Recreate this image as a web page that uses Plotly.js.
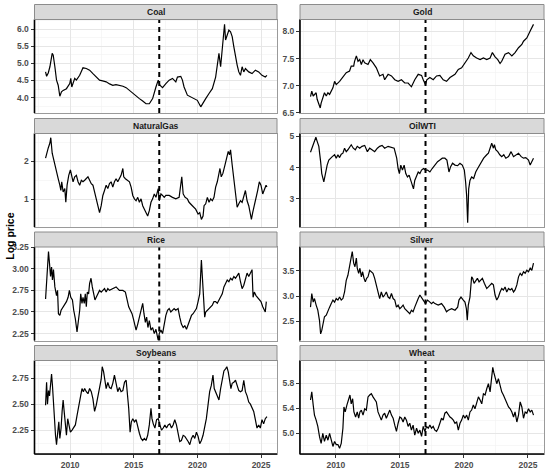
<!DOCTYPE html>
<html>
<head>
<meta charset="utf-8">
<script src="https://cdn.plot.ly/plotly-3.0.1.min.js"></script>
<style>
  html, body { margin: 0; padding: 0; background: #fff; }
  #chart { width: 550px; height: 469px; }
</style>
</head>
<body>
<div id="chart"></div>
<script>
// log prices, [year, log price]
const coal = [[2008.07,4.75],[2008.15,4.62],[2008.28,4.72],[2008.41,4.90],[2008.59,5.29],[2008.67,5.24],[2008.80,4.90],[2008.93,4.51],[2009.06,4.36],[2009.19,4.04],[2009.32,4.17],[2009.45,4.21],[2009.71,4.26],[2009.97,4.41],[2010.05,4.56],[2010.13,4.31],[2010.36,4.56],[2010.49,4.51],[2010.75,4.65],[2011.01,4.87],[2011.27,4.85],[2011.53,4.80],[2011.79,4.70],[2012.05,4.59],[2012.31,4.51],[2012.55,4.49],[2012.83,4.46],[2013.10,4.40],[2013.35,4.36],[2013.60,4.38],[2013.87,4.36],[2014.15,4.33],[2014.40,4.29],[2014.79,4.17],[2015.05,4.07],[2015.44,3.97],[2015.70,3.90],[2015.96,3.82],[2016.22,3.82],[2016.48,3.97],[2016.74,4.31],[2016.92,4.51],[2017.05,4.36],[2017.26,4.29],[2017.52,4.41],[2017.78,4.51],[2018.04,4.56],[2018.30,4.46],[2018.43,4.60],[2018.69,4.62],[2018.82,4.51],[2018.95,4.31],[2019.21,4.07],[2019.47,4.02],[2019.73,3.97],[2019.99,3.92],[2020.26,3.73],[2020.39,3.82],[2020.65,3.97],[2020.91,4.12],[2021.17,4.26],[2021.43,4.60],[2021.56,5.04],[2021.69,5.29],[2021.82,4.90],[2021.95,5.48],[2022.13,6.14],[2022.21,5.68],[2022.34,5.82],[2022.47,5.97],[2022.60,5.92],[2022.73,5.78],[2022.86,5.48],[2022.99,5.14],[2023.12,4.95],[2023.25,4.75],[2023.38,4.65],[2023.51,4.90],[2023.64,4.75],[2023.77,4.85],[2024.03,4.75],[2024.29,4.70],[2024.55,4.80],[2024.81,4.75],[2025.07,4.65],[2025.33,4.60],[2025.46,4.65]];

const gold = [[2008.02,6.80],[2008.12,6.90],[2008.23,6.81],[2008.33,6.84],[2008.46,6.87],[2008.54,6.75],[2008.67,6.68],[2008.78,6.59],[2008.85,6.68],[2008.98,6.78],[2009.11,6.87],[2009.25,6.81],[2009.38,6.87],[2009.51,6.84],[2009.77,6.96],[2009.90,7.08],[2010.03,7.02],[2010.29,7.08],[2010.55,7.15],[2010.81,7.24],[2011.07,7.27],[2011.20,7.36],[2011.39,7.36],[2011.46,7.45],[2011.60,7.55],[2011.73,7.45],[2011.86,7.48],[2011.99,7.39],[2012.12,7.48],[2012.25,7.42],[2012.51,7.39],[2012.69,7.48],[2012.90,7.42],[2013.16,7.33],[2013.42,7.18],[2013.68,7.21],[2013.81,7.11],[2014.08,7.21],[2014.34,7.18],[2014.60,7.11],[2014.86,7.08],[2015.12,7.11],[2015.38,7.05],[2015.64,7.05],[2015.90,6.98],[2016.16,7.11],[2016.43,7.21],[2016.69,7.19],[2016.82,7.11],[2017.00,7.02],[2017.10,7.11],[2017.34,7.15],[2017.60,7.11],[2017.86,7.18],[2018.12,7.19],[2018.38,7.11],[2018.64,7.08],[2018.91,7.15],[2019.30,7.21],[2019.56,7.30],[2019.82,7.33],[2020.08,7.42],[2020.34,7.51],[2020.55,7.61],[2020.73,7.55],[2020.99,7.51],[2021.26,7.48],[2021.52,7.51],[2021.78,7.48],[2022.04,7.51],[2022.22,7.61],[2022.43,7.53],[2022.64,7.48],[2022.82,7.41],[2022.95,7.45],[2023.21,7.58],[2023.48,7.61],[2023.74,7.55],[2023.99,7.61],[2024.26,7.70],[2024.52,7.76],[2024.65,7.82],[2024.91,7.88],[2025.17,8.01],[2025.43,8.13]];

const naturalGas = [[2008.07,2.08],[2008.15,2.21],[2008.28,2.35],[2008.41,2.48],[2008.48,2.62],[2008.59,2.21],[2008.67,2.08],[2008.80,1.90],[2008.93,1.68],[2009.06,1.54],[2009.19,1.37],[2009.27,1.23],[2009.34,1.46],[2009.45,1.19],[2009.58,1.28],[2009.66,0.92],[2009.76,1.37],[2009.89,1.63],[2010.02,1.77],[2010.13,1.59],[2010.23,1.46],[2010.36,1.59],[2010.49,1.63],[2010.62,1.46],[2010.75,1.37],[2010.88,1.50],[2011.01,1.46],[2011.14,1.50],[2011.27,1.54],[2011.40,1.59],[2011.53,1.50],[2011.66,1.41],[2011.79,1.37],[2011.92,1.19],[2012.05,0.96],[2012.18,0.83],[2012.31,0.65],[2012.44,0.83],[2012.57,1.10],[2012.70,1.23],[2012.83,1.37],[2012.96,1.28],[2013.09,1.41],[2013.22,1.46],[2013.35,1.32],[2013.48,1.46],[2013.61,1.54],[2013.74,1.46],[2013.87,1.54],[2014.00,1.63],[2014.14,1.81],[2014.21,1.59],[2014.34,1.54],[2014.53,1.50],[2014.66,1.46],[2014.79,1.32],[2014.92,1.10],[2015.05,1.01],[2015.18,0.96],[2015.31,1.05],[2015.44,0.92],[2015.57,1.01],[2015.70,0.83],[2015.83,0.74],[2015.96,0.65],[2016.09,0.56],[2016.22,0.70],[2016.35,0.92],[2016.48,1.01],[2016.61,1.14],[2016.74,1.05],[2016.92,1.28],[2017.00,0.96],[2017.13,1.14],[2017.26,1.10],[2017.39,1.05],[2017.52,1.10],[2017.78,1.10],[2018.04,1.05],[2018.30,1.01],[2018.56,1.05],[2018.77,1.59],[2018.88,1.14],[2019.03,1.05],[2019.21,1.01],[2019.34,0.92],[2019.60,0.83],[2019.86,0.74],[2020.05,0.61],[2020.18,0.65],[2020.31,0.47],[2020.44,0.56],[2020.52,0.83],[2020.65,0.88],[2020.78,1.05],[2020.91,0.92],[2021.04,1.01],[2021.17,0.96],[2021.30,1.05],[2021.43,1.32],[2021.56,1.46],[2021.69,1.63],[2021.77,1.81],[2021.87,1.59],[2022.00,1.68],[2022.16,1.90],[2022.29,2.12],[2022.42,2.26],[2022.52,2.17],[2022.60,2.30],[2022.73,1.90],[2022.86,1.54],[2022.99,1.19],[2023.12,0.79],[2023.25,0.88],[2023.38,0.96],[2023.51,0.92],[2023.64,1.10],[2023.77,1.23],[2023.90,0.96],[2024.03,0.83],[2024.16,0.61],[2024.24,0.47],[2024.34,0.65],[2024.47,0.83],[2024.60,1.05],[2024.73,1.23],[2024.86,1.46],[2024.99,1.37],[2025.13,1.14],[2025.26,1.28],[2025.39,1.37],[2025.46,1.32]];

const oilWTI = [[2008.02,4.49],[2008.15,4.62],[2008.28,4.78],[2008.44,4.97],[2008.54,4.84],[2008.67,4.68],[2008.81,4.19],[2008.90,3.81],[2009.06,3.54],[2009.16,3.76],[2009.32,4.08],[2009.45,4.24],[2009.58,4.30],[2009.72,4.35],[2009.90,4.41],[2010.03,4.30],[2010.16,4.41],[2010.29,4.32],[2010.42,4.43],[2010.55,4.46],[2010.68,4.62],[2010.81,4.51],[2010.94,4.57],[2011.10,4.68],[2011.20,4.73],[2011.36,4.62],[2011.52,4.57],[2011.67,4.68],[2011.86,4.62],[2012.04,4.68],[2012.25,4.71],[2012.46,4.51],[2012.64,4.62],[2012.82,4.57],[2013.03,4.51],[2013.24,4.62],[2013.42,4.68],[2013.61,4.71],[2013.81,4.62],[2014.08,4.68],[2014.34,4.65],[2014.55,4.62],[2014.65,4.46],[2014.75,4.30],[2014.86,3.97],[2014.96,3.81],[2015.07,4.08],[2015.20,3.92],[2015.33,4.08],[2015.46,3.81],[2015.59,3.70],[2015.72,3.76],[2015.85,3.59],[2015.98,3.43],[2016.06,3.32],[2016.16,3.59],[2016.30,3.76],[2016.43,3.86],[2016.56,3.81],[2016.69,3.92],[2016.84,3.97],[2017.00,3.92],[2017.16,3.92],[2017.34,3.86],[2017.52,3.97],[2017.73,4.08],[2017.94,4.19],[2018.12,4.24],[2018.31,4.30],[2018.51,4.30],[2018.67,4.24],[2018.83,3.86],[2018.96,4.03],[2019.11,4.14],[2019.30,4.08],[2019.51,4.06],[2019.69,4.14],[2019.87,4.08],[2020.03,3.92],[2020.13,3.54],[2020.21,3.11],[2020.29,2.24],[2020.37,3.32],[2020.47,3.59],[2020.60,3.70],[2020.76,3.65],[2020.92,3.86],[2021.07,3.97],[2021.23,4.08],[2021.39,4.19],[2021.54,4.30],[2021.78,4.41],[2021.91,4.46],[2022.04,4.62],[2022.17,4.78],[2022.30,4.62],[2022.38,4.73],[2022.48,4.57],[2022.64,4.51],[2022.80,4.41],[2022.95,4.35],[2023.11,4.41],[2023.27,4.30],[2023.48,4.35],[2023.68,4.51],[2023.87,4.35],[2024.05,4.41],[2024.26,4.46],[2024.47,4.35],[2024.65,4.30],[2024.83,4.32],[2025.04,4.24],[2025.17,4.08],[2025.30,4.19],[2025.43,4.30]];

const rice = [[2008.07,2.65],[2008.15,2.83],[2008.22,3.02],[2008.30,3.20],[2008.38,3.06],[2008.46,2.91],[2008.54,3.02],[2008.61,2.87],[2008.69,2.99],[2008.80,2.79],[2008.93,2.69],[2009.01,2.75],[2009.08,2.48],[2009.19,2.46],[2009.29,2.52],[2009.45,2.56],[2009.58,2.58],[2009.71,2.62],[2009.84,2.67],[2009.94,2.75],[2010.05,2.67],[2010.18,2.64],[2010.28,2.52],[2010.41,2.42],[2010.54,2.27],[2010.65,2.40],[2010.75,2.52],[2010.83,2.71],[2010.93,2.60],[2011.01,2.67],[2011.11,2.60],[2011.19,2.71],[2011.27,2.56],[2011.35,2.73],[2011.45,2.71],[2011.53,2.83],[2011.64,2.89],[2011.74,2.79],[2011.84,2.71],[2011.95,2.64],[2012.05,2.67],[2012.18,2.71],[2012.31,2.75],[2012.44,2.73],[2012.57,2.75],[2012.70,2.77],[2012.83,2.73],[2012.96,2.77],[2013.09,2.75],[2013.35,2.77],[2013.61,2.79],[2013.87,2.75],[2014.14,2.75],[2014.34,2.73],[2014.47,2.62],[2014.60,2.56],[2014.73,2.52],[2014.86,2.48],[2014.97,2.42],[2015.07,2.36],[2015.18,2.29],[2015.31,2.36],[2015.44,2.44],[2015.57,2.52],[2015.70,2.60],[2015.80,2.48],[2015.91,2.38],[2016.01,2.44],[2016.11,2.32],[2016.22,2.40],[2016.35,2.29],[2016.48,2.32],[2016.61,2.25],[2016.74,2.30],[2016.92,2.17],[2017.00,2.25],[2017.13,2.29],[2017.26,2.25],[2017.34,2.32],[2017.44,2.40],[2017.52,2.46],[2017.65,2.52],[2017.78,2.54],[2017.91,2.50],[2018.04,2.52],[2018.17,2.54],[2018.30,2.52],[2018.48,2.54],[2018.61,2.44],[2018.74,2.36],[2018.88,2.32],[2019.01,2.34],[2019.14,2.30],[2019.27,2.36],[2019.40,2.40],[2019.53,2.46],[2019.66,2.48],[2019.79,2.52],[2019.92,2.54],[2020.05,2.62],[2020.18,2.71],[2020.31,3.10],[2020.39,2.87],[2020.46,2.67],[2020.57,2.44],[2020.65,2.50],[2020.78,2.52],[2020.91,2.54],[2021.04,2.56],[2021.17,2.58],[2021.30,2.62],[2021.43,2.62],[2021.56,2.60],[2021.69,2.64],[2021.82,2.67],[2021.95,2.71],[2022.08,2.79],[2022.21,2.83],[2022.34,2.87],[2022.47,2.85],[2022.60,2.89],[2022.73,2.87],[2022.86,2.91],[2022.99,2.89],[2023.12,2.93],[2023.25,2.95],[2023.38,2.85],[2023.51,2.77],[2023.64,2.81],[2023.77,2.87],[2023.90,2.95],[2024.03,2.91],[2024.16,2.95],[2024.29,2.99],[2024.37,2.67],[2024.47,2.73],[2024.60,2.69],[2024.73,2.67],[2024.86,2.65],[2024.99,2.62],[2025.13,2.56],[2025.26,2.52],[2025.33,2.50],[2025.41,2.62]];

const silver = [[2008.02,2.78],[2008.12,3.05],[2008.23,2.88],[2008.33,2.95],[2008.46,2.82],[2008.59,2.72],[2008.72,2.52],[2008.81,2.25],[2008.90,2.32],[2009.01,2.45],[2009.11,2.59],[2009.25,2.62],[2009.38,2.72],[2009.51,2.78],[2009.64,2.85],[2009.77,2.92],[2009.90,2.88],[2010.03,2.95],[2010.16,2.92],[2010.29,2.98],[2010.42,2.92],[2010.55,2.95],[2010.68,3.08],[2010.81,3.31],[2010.94,3.41],[2011.07,3.58],[2011.20,3.75],[2011.28,3.88],[2011.39,3.65],[2011.49,3.58],[2011.60,3.75],[2011.67,3.55],[2011.78,3.45],[2011.88,3.55],[2011.99,3.38],[2012.09,3.48],[2012.20,3.35],[2012.30,3.28],[2012.40,3.35],[2012.51,3.38],[2012.64,3.51],[2012.77,3.48],[2012.90,3.45],[2013.03,3.35],[2013.16,3.22],[2013.29,3.05],[2013.42,2.95],[2013.55,3.08],[2013.68,2.98],[2013.81,3.02],[2013.94,3.08],[2014.08,2.98],[2014.21,2.95],[2014.34,3.05],[2014.47,2.95],[2014.60,2.92],[2014.73,2.78],[2014.86,2.82],[2014.99,2.75],[2015.12,2.78],[2015.25,2.82],[2015.38,2.75],[2015.51,2.72],[2015.64,2.69],[2015.77,2.65],[2015.90,2.72],[2016.03,2.69],[2016.16,2.78],[2016.30,2.88],[2016.43,2.95],[2016.56,3.02],[2016.69,2.98],[2016.82,2.92],[2017.00,2.85],[2017.16,2.92],[2017.34,2.88],[2017.47,2.85],[2017.60,2.88],[2017.73,2.85],[2017.99,2.82],[2018.25,2.85],[2018.46,2.78],[2018.64,2.69],[2018.78,2.72],[2019.04,2.75],[2019.30,2.72],[2019.51,2.78],[2019.61,2.92],[2019.77,2.98],[2019.95,2.92],[2020.08,2.88],[2020.19,2.75],[2020.26,2.52],[2020.34,2.82],[2020.47,2.98],[2020.60,3.38],[2020.68,3.35],[2020.79,3.25],[2020.92,3.31],[2021.05,3.35],[2021.18,3.28],[2021.33,3.31],[2021.44,3.35],[2021.60,3.25],[2021.78,3.15],[2021.91,3.18],[2022.04,3.22],[2022.17,3.25],[2022.30,3.22],[2022.43,3.02],[2022.56,2.92],[2022.69,2.98],[2022.82,3.08],[2022.95,3.15],[2023.08,3.12],[2023.21,3.18],[2023.34,3.08],[2023.48,3.15],[2023.61,3.12],[2023.74,3.15],[2023.87,3.08],[2023.99,3.12],[2024.13,3.22],[2024.26,3.38],[2024.39,3.45],[2024.52,3.41],[2024.65,3.48],[2024.78,3.45],[2024.91,3.51],[2025.04,3.48],[2025.17,3.55],[2025.30,3.51],[2025.43,3.65]];

const soybeans = [[2008.07,2.49],[2008.15,2.71],[2008.22,2.50],[2008.30,2.63],[2008.38,2.58],[2008.46,2.68],[2008.54,2.79],[2008.61,2.68],[2008.69,2.49],[2008.77,2.33],[2008.85,2.20],[2008.93,2.11],[2009.01,2.23],[2009.11,2.33],[2009.19,2.17],[2009.29,2.27],[2009.37,2.43],[2009.45,2.54],[2009.53,2.43],[2009.63,2.30],[2009.71,2.20],[2009.81,2.36],[2009.92,2.27],[2010.02,2.23],[2010.15,2.25],[2010.28,2.27],[2010.41,2.30],[2010.54,2.39],[2010.67,2.49],[2010.80,2.57],[2010.93,2.65],[2011.04,2.62],[2011.14,2.65],[2011.27,2.62],[2011.40,2.60],[2011.53,2.65],[2011.66,2.62],[2011.79,2.55],[2011.92,2.43],[2012.05,2.49],[2012.18,2.58],[2012.31,2.66],[2012.44,2.74],[2012.52,2.86],[2012.63,2.81],[2012.73,2.73],[2012.83,2.65],[2012.96,2.71],[2013.09,2.66],[2013.22,2.65],[2013.35,2.70],[2013.48,2.78],[2013.61,2.68],[2013.74,2.62],[2013.87,2.66],[2014.00,2.62],[2014.14,2.63],[2014.27,2.71],[2014.40,2.73],[2014.50,2.62],[2014.60,2.46],[2014.71,2.23],[2014.81,2.33],[2014.92,2.36],[2015.05,2.33],[2015.18,2.35],[2015.31,2.27],[2015.44,2.22],[2015.57,2.17],[2015.70,2.15],[2015.83,2.17],[2015.96,2.15],[2016.09,2.20],[2016.22,2.30],[2016.35,2.46],[2016.43,2.36],[2016.53,2.31],[2016.66,2.27],[2016.79,2.35],[2016.92,2.36],[2017.05,2.30],[2017.18,2.25],[2017.31,2.27],[2017.44,2.30],[2017.57,2.27],[2017.70,2.30],[2017.83,2.31],[2017.96,2.27],[2018.09,2.30],[2018.22,2.35],[2018.35,2.30],[2018.48,2.20],[2018.61,2.14],[2018.74,2.15],[2018.88,2.20],[2019.01,2.19],[2019.14,2.17],[2019.27,2.14],[2019.40,2.11],[2019.53,2.17],[2019.66,2.20],[2019.79,2.17],[2019.92,2.23],[2020.05,2.19],[2020.18,2.12],[2020.31,2.15],[2020.44,2.20],[2020.57,2.27],[2020.70,2.36],[2020.83,2.49],[2020.96,2.62],[2021.09,2.68],[2021.22,2.78],[2021.32,2.65],[2021.43,2.62],[2021.56,2.58],[2021.69,2.54],[2021.82,2.65],[2021.95,2.74],[2022.08,2.82],[2022.21,2.84],[2022.31,2.86],[2022.42,2.81],[2022.52,2.71],[2022.63,2.65],[2022.73,2.70],[2022.86,2.71],[2022.99,2.73],[2023.12,2.68],[2023.25,2.63],[2023.38,2.62],[2023.51,2.63],[2023.64,2.73],[2023.77,2.62],[2023.90,2.58],[2024.03,2.52],[2024.16,2.50],[2024.29,2.46],[2024.42,2.43],[2024.55,2.35],[2024.68,2.27],[2024.81,2.30],[2024.94,2.27],[2025.07,2.35],[2025.20,2.31],[2025.33,2.36],[2025.46,2.38]];

const wheat = [[2008.02,5.53],[2008.12,5.66],[2008.23,5.45],[2008.33,5.29],[2008.46,5.21],[2008.59,5.11],[2008.72,4.95],[2008.85,4.84],[2008.98,5.00],[2009.11,4.87],[2009.25,4.97],[2009.38,4.89],[2009.51,5.00],[2009.64,4.89],[2009.77,4.79],[2009.90,4.87],[2010.03,4.82],[2010.16,4.82],[2010.29,4.76],[2010.42,4.84],[2010.55,5.08],[2010.63,5.42],[2010.73,5.34],[2010.86,5.45],[2010.99,5.55],[2011.10,5.61],[2011.20,5.47],[2011.31,5.55],[2011.41,5.34],[2011.54,5.26],[2011.67,5.34],[2011.78,5.24],[2011.88,5.34],[2011.99,5.37],[2012.12,5.29],[2012.25,5.39],[2012.38,5.37],[2012.51,5.58],[2012.64,5.61],[2012.77,5.63],[2012.90,5.58],[2013.03,5.53],[2013.16,5.50],[2013.29,5.34],[2013.42,5.26],[2013.55,5.21],[2013.68,5.29],[2013.81,5.32],[2013.94,5.24],[2014.08,5.32],[2014.21,5.37],[2014.34,5.29],[2014.47,5.24],[2014.60,5.13],[2014.73,5.03],[2014.86,5.16],[2014.99,5.26],[2015.12,5.24],[2015.25,5.18],[2015.38,5.26],[2015.51,5.21],[2015.64,5.11],[2015.77,5.16],[2015.90,5.05],[2016.03,5.13],[2016.16,4.97],[2016.30,5.08],[2016.43,5.00],[2016.56,5.05],[2016.69,4.95],[2016.82,5.11],[2016.95,5.03],[2017.08,5.11],[2017.21,5.08],[2017.34,5.13],[2017.47,5.08],[2017.60,5.11],[2017.73,5.05],[2017.86,5.03],[2017.99,5.08],[2018.12,5.16],[2018.25,5.24],[2018.38,5.21],[2018.51,5.32],[2018.64,5.34],[2018.78,5.29],[2018.91,5.26],[2019.04,5.24],[2019.17,5.21],[2019.30,5.16],[2019.43,5.18],[2019.56,5.05],[2019.69,5.16],[2019.82,5.21],[2019.95,5.29],[2020.08,5.24],[2020.21,5.29],[2020.34,5.21],[2020.47,5.34],[2020.60,5.37],[2020.73,5.45],[2020.86,5.39],[2020.99,5.50],[2021.13,5.58],[2021.26,5.53],[2021.39,5.47],[2021.52,5.63],[2021.65,5.61],[2021.78,5.71],[2021.91,5.79],[2022.04,5.66],[2022.17,5.92],[2022.25,6.05],[2022.33,5.97],[2022.43,5.89],[2022.56,5.79],[2022.69,5.87],[2022.82,5.76],[2022.95,5.66],[2023.08,5.61],[2023.21,5.55],[2023.34,5.47],[2023.48,5.42],[2023.61,5.39],[2023.74,5.34],[2023.87,5.26],[2023.99,5.34],[2024.13,5.18],[2024.26,5.29],[2024.39,5.50],[2024.52,5.42],[2024.65,5.24],[2024.78,5.34],[2024.91,5.32],[2025.04,5.39],[2025.17,5.34],[2025.30,5.37],[2025.43,5.29]];

// facet names, x ticks, y ticks
const facetNames = ['Coal', 'Gold', 'NaturalGas', 'OilWTI', 'Rice', 'Silver', 'Soybeans', 'Wheat'];
const xTicks = [2010, 2015, 2020, 2025];
const breakYear = 2017;
const yTicksCoal = [4.0, 4.5, 5.0, 5.5, 6.0];
const yTicksGold = [6.5, 7.0, 7.5, 8.0];
const yTicksGas = [1, 2];
const yTicksOil = [3, 4, 5];
const yTicksRice = [2.25, 2.50, 2.75, 3.00, 3.25];
const yTicksSilver = [2.5, 3.0, 3.5];
const yTicksSoy = [2.25, 2.50, 2.75];
const yTicksWheat = [5.0, 5.4, 5.8];

const panels = [
    { data: coal, ticks: yTicksCoal, dec: 1, range: [3.55, 6.28] },
    { data: gold, ticks: yTicksGold, dec: 1, range: [6.497, 8.22] },
    { data: naturalGas, ticks: yTicksGas, dec: 0, range: [0.27, 2.73] },
    { data: oilWTI, ticks: yTicksOil, dec: 0, range: [2.10, 5.09] },
    { data: rice, ticks: yTicksRice, dec: 2, range: [2.17, 3.252] },
    { data: silver, ticks: yTicksSilver, dec: 1, range: [2.12, 3.97] },
    { data: soybeans, ticks: yTicksSoy, dec: 2, range: [2.02, 2.92] },
    { data: wheat, ticks: yTicksWheat, dec: 1, range: [4.67, 6.16] }
];

// geometry in pixels
const W = 550, H = 469;
const colLeft = [34.5, 300];
const colRight = [277, 544];
const rowTop = [19.5, 133.5, 247, 360.5];
const panelH = 93.5;
const stripH = 15;
const xRange = [2007.2, 2026.25];

const tickFont = { family: 'Liberation Sans, Arial, sans-serif', size: 8.5, color: '#4d4d4d', weight: 'bold' };

function midpoints(ticks) {
    // minor grid lines half way between the major ones
    const step = ticks.length > 1 ? ticks[1] - ticks[0] : 1;
    const out = [ticks[0] - step / 2];
    ticks.forEach(t => out.push(t + step / 2));
    return out;
}

const traces = [];
const shapes = [];
const annotations = [];
const layout = {
    width: W, height: H,
    margin: { l: 0, r: 0, t: 0, b: 0 },
    paper_bgcolor: '#fff',
    plot_bgcolor: '#fff',
    showlegend: false,
    font: { family: 'Liberation Sans, Arial, sans-serif' }
};

panels.forEach((p, i) => {
    const col = i % 2, row = Math.floor(i / 2);
    const ax = i === 0 ? '' : String(i + 1);
    const x0 = colLeft[col] / W, x1 = colRight[col] / W;
    const yTopPx = rowTop[row], yBotPx = rowTop[row] + panelH;
    const y0 = 1 - yBotPx / H, y1 = 1 - yTopPx / H;
    const bottom = row === 3;

    traces.push({
        x: p.data.map(d => d[0]),
        y: p.data.map(d => d[1]),
        xaxis: 'x' + ax, yaxis: 'y' + ax,
        type: 'scatter', mode: 'lines',
        line: { color: '#000', width: 1.2 },
        hoverinfo: 'skip'
    });

    layout['xaxis' + ax] = {
        domain: [x0, x1], anchor: 'y' + ax, range: xRange,
        tickmode: 'array', tickvals: xTicks, ticktext: xTicks.map(String),
        showticklabels: bottom, ticks: bottom ? 'outside' : '', ticklen: 3, tickcolor: '#333', tickwidth: 1,
        tickfont: tickFont,
        showgrid: true, gridcolor: '#e6e6e6', gridwidth: 1, zeroline: false,
        minor: { tickmode: 'array', tickvals: midpoints(xTicks), showgrid: true, gridcolor: '#f2f2f2', gridwidth: 0.6 },
        showline: true, mirror: true, linecolor: '#9a9a9a', linewidth: 1,
        fixedrange: true
    };
    layout['yaxis' + ax] = {
        domain: [y0, y1], anchor: 'x' + ax, range: p.range,
        tickmode: 'array', tickvals: p.ticks, ticktext: p.ticks.map(t => t.toFixed(p.dec)),
        ticks: 'outside', ticklen: 3, tickcolor: '#333', tickwidth: 1,
        tickfont: tickFont,
        showgrid: true, gridcolor: '#e6e6e6', gridwidth: 1, zeroline: false,
        minor: { tickmode: 'array', tickvals: midpoints(p.ticks), showgrid: true, gridcolor: '#f2f2f2', gridwidth: 0.6 },
        showline: true, mirror: true, linecolor: '#9a9a9a', linewidth: 1,
        fixedrange: true
    };

    // dashed vertical line at the break year
    shapes.push({
        type: 'line', xref: 'x' + ax, yref: 'y' + ax + ' domain',
        x0: breakYear, x1: breakYear, y0: 0, y1: 1,
        line: { color: '#000', width: 2, dash: '5px,4px' }, layer: 'above'
    });
    // black axis line on the left, and on the bottom for the last row
    shapes.push({
        type: 'line', xref: 'paper', yref: 'paper',
        x0: x0, x1: x0, y0: y0, y1: y1,
        line: { color: '#000', width: 1.6 }, layer: 'above'
    });
    if (bottom) {
        shapes.push({
            type: 'line', xref: 'paper', yref: 'paper',
            x0: x0, x1: x1, y0: y0, y1: y0,
            line: { color: '#000', width: 1.6 }, layer: 'above'
        });
    }
    // strip
    shapes.push({
        type: 'rect', xref: 'paper', yref: 'paper',
        x0: x0, x1: x1, y0: y1, y1: 1 - (yTopPx - stripH) / H,
        fillcolor: '#d9d9d9', line: { color: '#8c8c8c', width: 1 }, layer: 'above'
    });
    annotations.push({
        text: facetNames[i], xref: 'paper', yref: 'paper',
        x: (x0 + x1) / 2, y: 1 - (yTopPx - stripH / 2) / H,
        xanchor: 'center', yanchor: 'middle', showarrow: false,
        font: { family: 'Liberation Sans, Arial, sans-serif', size: 8.5, color: '#1a1a1a', weight: 'bold' }
    });
});

annotations.push({
    text: 'Log price', xref: 'paper', yref: 'paper',
    x: 10 / W, y: 1 - ((rowTop[0] + rowTop[3] + panelH) / 2) / H,
    xanchor: 'center', yanchor: 'middle', textangle: -90, showarrow: false,
    font: { family: 'Liberation Sans, Arial, sans-serif', size: 10.5, color: '#000', weight: 'bold' }
});

layout.shapes = shapes;
layout.annotations = annotations;

Plotly.newPlot('chart', traces, layout, { staticPlot: true, displayModeBar: false });
</script>
</body>
</html>
